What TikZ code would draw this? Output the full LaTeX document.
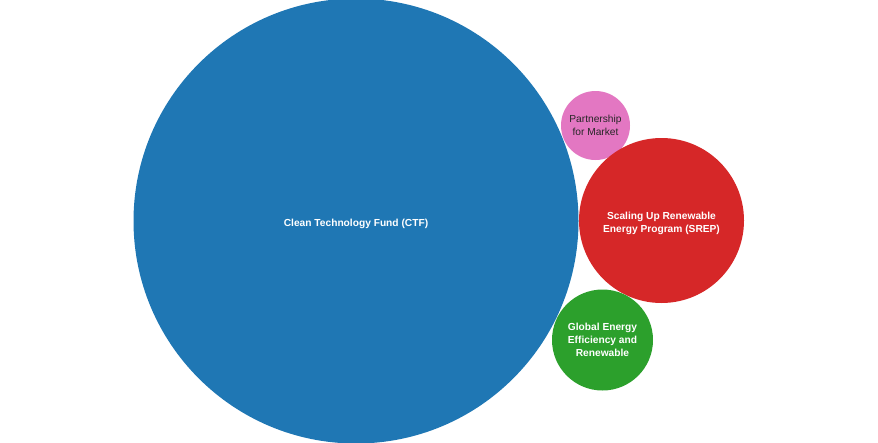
\documentclass[tikz,border=0pt]{standalone}
\usepackage{fontspec}
\setmainfont{Liberation Sans}
\definecolor{ctfblue}{HTML}{1F77B4}
\definecolor{srepred}{HTML}{D62728}
\definecolor{geefgreen}{HTML}{2CA02C}
\definecolor{pmrpink}{HTML}{E377C2}
\begin{document}
\begin{tikzpicture}[x=1pt, y=-1pt, bubble/.style={circle, inner sep=0pt, align=center, text=white, text depth=0pt, font=\fontsize{10.2}{12.8}\selectfont\bfseries}]
                    \useasboundingbox (0,0) rectangle (878,442);
                    \node [bubble, fill=ctfblue, minimum size=445pt, text height=11pt] (ctf) at (356,221) {Clean Technology Fund (CTF)};
                    \node [bubble, fill=pmrpink, minimum size=69pt, text=black!85, font=\fontsize{10.2}{12.8}\selectfont] (pmr) at (595.5,125.5) {Partnership\\for Market};
                    \node [bubble, fill=srepred, minimum size=165pt, text height=24pt] (srep) at (661.5,220.5) {Scaling Up Renewable\\Energy Program (SREP)};
                    \node [bubble, fill=geefgreen, minimum size=101pt] (geef) at (602.5,340) {Global Energy\\Efficiency and\\Renewable};
                \end{tikzpicture}
\end{document}
